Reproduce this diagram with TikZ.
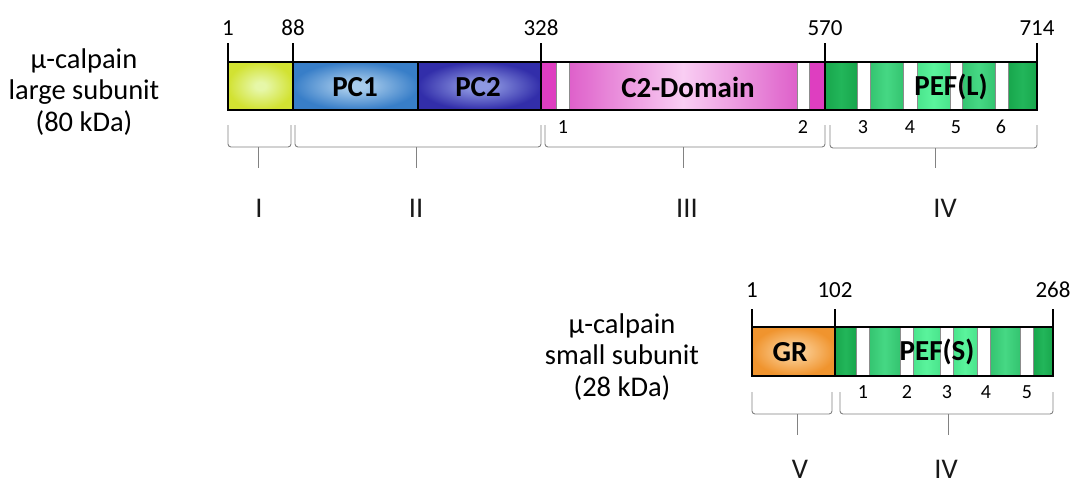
\documentclass[tikz,border=0pt]{standalone}
\usepackage{fontspec}
\setmainfont{Carlito}

% domain colours
\definecolor{limeE}{RGB}{210,226,50}
\definecolor{limeC}{RGB}{230,247,168}
\definecolor{pconeE}{RGB}{56,126,200}
\definecolor{pconeC}{RGB}{168,204,236}
\definecolor{pctwoE}{RGB}{50,46,170}
\definecolor{pctwoC}{RGB}{142,152,226}
\definecolor{magen}{RGB}{222,62,192}
\definecolor{ctwoE}{RGB}{222,96,202}
\definecolor{ctwoC}{RGB}{249,206,243}
\definecolor{gdark}{RGB}{24,166,76}
\definecolor{gdarkC}{RGB}{34,182,90}
\definecolor{gmid}{RGB}{52,196,112}
\definecolor{gmidC}{RGB}{70,216,132}
\definecolor{glight}{RGB}{74,228,140}
\definecolor{glightC}{RGB}{90,244,156}
\definecolor{grE}{RGB}{240,148,46}
\definecolor{grC}{RGB}{251,208,152}
\definecolor{brk}{RGB}{130,130,130}

% soft centre glow used for the globular domains
\pgfdeclareradialshading{limeglow}{\pgfpoint{0bp}{0bp}}{color(0bp)=(limeC); color(4bp)=(limeC); color(25bp)=(limeE); color(50bp)=(limeE)}
\pgfdeclareradialshading{pconeglow}{\pgfpoint{0bp}{0bp}}{color(0bp)=(pconeC); color(4bp)=(pconeC); color(25bp)=(pconeE); color(50bp)=(pconeE)}
\pgfdeclareradialshading{pctwoglow}{\pgfpoint{0bp}{0bp}}{color(0bp)=(pctwoC); color(4bp)=(pctwoC); color(25bp)=(pctwoE); color(50bp)=(pctwoE)}
\pgfdeclareradialshading{grglow}{\pgfpoint{0bp}{0bp}}{color(0bp)=(grC); color(4bp)=(grC); color(25bp)=(grE); color(50bp)=(grE)}

\tikzset{
  outline/.style={draw=black, line width=1.8pt},
  divider/.style={draw=black, line width=1.5pt},
  tick/.style={draw=black, line width=2pt},
  gap/.style={fill=white, draw=black!45, line width=0.4pt},
  segdark/.style={left color=gdark, right color=gdark, middle color=gdarkC},
  segmid/.style={left color=gmid, right color=gmid, middle color=gmidC},
  seglight/.style={left color=glight, right color=glight, middle color=glightC},
  bracket/.style={draw=brk, line width=0.9pt, rounded corners=3pt},
  resnum/.style={font=\fontsize{23}{23}\selectfont, anchor=base, inner sep=0pt},
  efhand/.style={font=\fontsize{20}{20}\selectfont, anchor=base, inner sep=0pt},
  dname/.style={font=\bfseries\fontsize{29}{29}\selectfont, inner sep=0pt},
  roman/.style={font=\fontsize{28.5}{28.5}\selectfont, anchor=base, inner sep=0pt, text=black!90},
  subunit/.style={font=\fontsize{28.5}{31.5}\selectfont, align=center, inner sep=0pt},
}

% bracket under a region: left x, right x, top y, bottom y, stem x, stem end y
\newcommand{\domBracket}[6]{%
  \draw[bracket] (#1,#3) -- (#1,#4) -- (#2,#4) -- (#2,#3);
  \draw[bracket] (#5,#4) -- (#5,#6);
}

\begin{document}
\begin{tikzpicture}[x=1pt, y=-1pt]
\fill[white] (0,0) rectangle (1082,485);
\useasboundingbox (0,0) rectangle (1082,485);

% ---------------- large subunit ----------------
\node[subunit] (largename) at (84,92) {μ-calpain\\large subunit\\(80 kDa)};

\shade[shading=limeglow] (228,62) rectangle (293,110);
\shade[shading=pconeglow] (293,62) rectangle (418,110);
\shade[shading=pctwoglow] (418,62) rectangle (541,110);
\fill[magen] (541,62) rectangle (825,110);
\shade[left color=ctwoE, right color=ctwoE, middle color=ctwoC] (569,62) rectangle (797,110);
\filldraw[gap] (556,62) rectangle (569,110);
\filldraw[gap] (797,62) rectangle (809,110);

\shade[segdark]  (825,62) rectangle (857,110);
\shade[segmid]   (870,62) rectangle (903,110);
\shade[seglight] (917,62) rectangle (950,110);
\shade[segmid]   (962,62) rectangle (995,110);
\shade[segdark]  (1008,62) rectangle (1037,110);
\filldraw[gap] (857,62) rectangle (870,110);
\filldraw[gap] (903,62) rectangle (917,110);
\filldraw[gap] (950,62) rectangle (962,110);
\filldraw[gap] (995,62) rectangle (1008,110);

\draw[divider] (293,62) -- (293,110);
\draw[divider] (418,62) -- (418,110);
\draw[divider] (541,62) -- (541,110);
\draw[divider] (825,62) -- (825,110);
\draw[outline] (228,62) rectangle (1037,110);

\node[dname] (pc1) at (355,87) {PC1};
\node[dname] (pc2) at (478,87) {PC2};
\node[dname] (c2) at (688,87) {C2-Domain};
\node[dname] (pefl) at (951,87) {PEF(L)};

% residue positions
\foreach \x/\t/\n in {228/1/a, 293/88/b, 541/328/c, 825/570/d, 1037/714/e} {
  \draw[tick] (\x,43) -- (\x,62);
  \node[resnum] (lpos\n) at (\x,35) {\t};
}

% EF-hand numbers
\foreach \x/\t in {563/1, 803/2, 863/3, 910/4, 956/5, 1001/6}
  \node[efhand] (lef\t) at (\x,133) {\t};

% domain brackets
\domBracket{228}{291}{125}{147}{258}{168}
\domBracket{295}{541}{125}{147}{416}{168}
\domBracket{545}{825}{125}{147}{683}{168}
\domBracket{830}{1037}{125}{148}{935}{168}

\node[roman] (dI)   at (259,217) {I};
\node[roman] (dII)  at (416,217) {II};
\node[roman] (dIII) at (687,217) {III};
\node[roman] (dIV)  at (945,217) {IV};

% ---------------- small subunit ----------------
\node[subunit] (smallname) at (622,357) {μ-calpain\\small subunit\\(28 kDa)};

\shade[shading=grglow] (752,327) rectangle (835,376);
\shade[segdark]  (835,327) rectangle (856,376);
\shade[segmid]   (869,327) rectangle (900,376);
\shade[seglight] (913,327) rectangle (940,376);
\shade[seglight] (953,327) rectangle (977,376);
\shade[segmid]   (990,327) rectangle (1020,376);
\shade[segdark]  (1033,327) rectangle (1053,376);
\filldraw[gap] (856,327) rectangle (869,376);
\filldraw[gap] (900,327) rectangle (913,376);
\filldraw[gap] (940,327) rectangle (953,376);
\filldraw[gap] (977,327) rectangle (990,376);
\filldraw[gap] (1020,327) rectangle (1033,376);

\draw[divider] (835,327) -- (835,376);
\draw[outline] (752,327) rectangle (1053,376);

\node[dname] (gr) at (790,352) {GR};
\node[dname] (pefs) at (937,352) {PEF(S)};

\foreach \x/\t/\n in {752/1/a, 835/102/b, 1053/268/c} {
  \draw[tick] (\x,309) -- (\x,327);
  \node[resnum] (spos\n) at (\x,297) {\t};
}

\foreach \x/\t in {863/1, 907/2, 947/3, 986/4, 1027/5}
  \node[efhand] (sef\t) at (\x,398) {\t};

\domBracket{752}{832}{392}{414}{797}{435}
\domBracket{840}{1053}{392}{414}{948}{435}

\node[roman] (dV)   at (800,478) {V};
\node[roman] (dIVs) at (946,478) {IV};
\end{tikzpicture}
\end{document}
